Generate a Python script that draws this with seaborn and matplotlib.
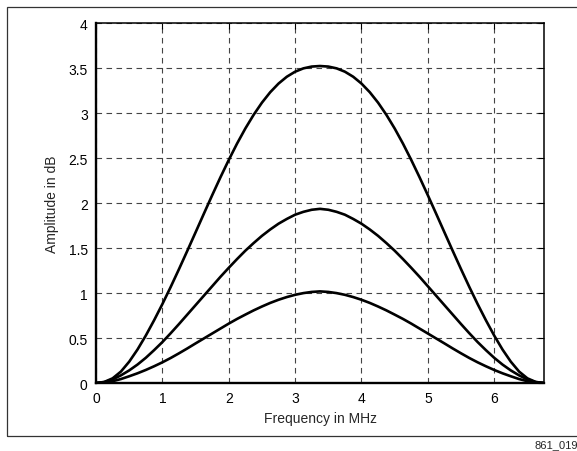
import numpy as np
import pandas as pd
import matplotlib
matplotlib.use("Agg")
import matplotlib.pyplot as plt
import matplotlib.ticker as mticker
from matplotlib.patches import Rectangle
import seaborn as sns

# frequency points (MHz), every 0.125 MHz
freq = [0.0, 0.125, 0.25, 0.375, 0.5, 0.625, 0.75, 0.875, 1.0, 1.125, 1.25, 1.375, 1.5, 1.625,
        1.75, 1.875, 2.0, 2.125, 2.25, 2.375, 2.5, 2.625, 2.75, 2.875, 3.0, 3.125, 3.25, 3.375,
        3.5, 3.625, 3.75, 3.875, 4.0, 4.125, 4.25, 4.375, 4.5, 4.625, 4.75, 4.875, 5.0, 5.125,
        5.25, 5.375, 5.5, 5.625, 5.75, 5.875, 6.0, 6.125, 6.25, 6.375, 6.5, 6.625, 6.75]

# amplitude of the three curves (dB)
amp_high = [0.0, 0.012, 0.052, 0.127, 0.237, 0.372, 0.527, 0.697, 0.877, 1.067, 1.265, 1.468, 1.674, 1.881,
            2.086, 2.286, 2.478, 2.66, 2.828, 2.98, 3.115, 3.231, 3.327, 3.403, 3.459, 3.496, 3.516, 3.522,
            3.516, 3.496, 3.459, 3.403, 3.327, 3.231, 3.115, 2.98, 2.828, 2.66, 2.478, 2.286, 2.086, 1.881,
            1.674, 1.468, 1.265, 1.067, 0.877, 0.697, 0.527, 0.372, 0.237, 0.127, 0.052, 0.012, 0.0]
amp_mid = [0.0, 0.01, 0.04, 0.085, 0.14, 0.205, 0.28, 0.365, 0.455, 0.553, 0.655, 0.76, 0.865, 0.97,
           1.075, 1.18, 1.28, 1.377, 1.47, 1.555, 1.635, 1.706, 1.77, 1.823, 1.87, 1.902, 1.925, 1.935,
           1.925, 1.902, 1.87, 1.823, 1.77, 1.706, 1.635, 1.555, 1.47, 1.377, 1.28, 1.18, 1.075, 0.97,
           0.865, 0.76, 0.655, 0.553, 0.455, 0.365, 0.28, 0.205, 0.14, 0.085, 0.04, 0.01, 0.0]
amp_low = [0.0, 0.005, 0.02, 0.044, 0.075, 0.108, 0.145, 0.186, 0.23, 0.278, 0.33, 0.384, 0.44, 0.495,
           0.55, 0.605, 0.66, 0.712, 0.76, 0.807, 0.85, 0.89, 0.925, 0.955, 0.98, 0.999, 1.012, 1.018,
           1.012, 0.999, 0.98, 0.955, 0.925, 0.89, 0.85, 0.807, 0.76, 0.712, 0.66, 0.605, 0.55, 0.495,
           0.44, 0.384, 0.33, 0.278, 0.23, 0.186, 0.145, 0.108, 0.075, 0.044, 0.02, 0.005, 0.0]

x_ticks = [0, 1, 2, 3, 4, 5, 6]
y_ticks = [0, 0.5, 1, 1.5, 2, 2.5, 3, 3.5, 4]

df = pd.concat([
    pd.DataFrame({"freq": freq, "amp": amp_high, "curve": "high"}),
    pd.DataFrame({"freq": freq, "amp": amp_mid, "curve": "mid"}),
    pd.DataFrame({"freq": freq, "amp": amp_low, "curve": "low"}),
])

sns.set_style("white")
plt.rcParams["font.family"] = ["Liberation Sans", "DejaVu Sans"]

fig = plt.figure(figsize=(5.77, 4.52), dpi=100)
ax = fig.add_axes([0.1664, 0.1504, 0.7764, 0.7965])

sns.lineplot(data=df, x="freq", y="amp", units="curve", estimator=None,
             color="black", linewidth=1.9, ax=ax)
for ln in ax.lines:
    ln.set_solid_joinstyle("round")
    ln.set_solid_capstyle("round")

ax.set_xlim(0, 6.75)
ax.set_ylim(0, 4)
ax.set_xticks(x_ticks)
ax.set_yticks(y_ticks)
ax.yaxis.set_major_formatter(mticker.FormatStrFormatter("%g"))
ax.grid(True, color="#444444", linestyle=(0, (5, 4)), linewidth=0.8)
ax.tick_params(direction="in", length=4, width=0.8, top=True, right=True,
               labelsize=10, colors="black", pad=6)
ax.set_xlabel("Frequency in MHz", fontsize=10, labelpad=4)
ax.set_ylabel("Amplitude in dB", fontsize=10, labelpad=7)

for side in ["left", "bottom"]:
    ax.spines[side].set_linewidth(1.7)
    ax.spines[side].set_color("black")
for side in ["top", "right"]:
    ax.spines[side].set_linewidth(1.1)
    ax.spines[side].set_color("black")

# outer frame round the chart
fig.patches.append(Rectangle((0.0121, 0.0332), 1.0, 0.949, transform=fig.transFigure,
                             fill=False, edgecolor="#333333", linewidth=0.9))
fig.text(0.927, 0.0095, "861_019", fontsize=8, va="baseline", ha="left")

fig.savefig("out.png", dpi=100)
